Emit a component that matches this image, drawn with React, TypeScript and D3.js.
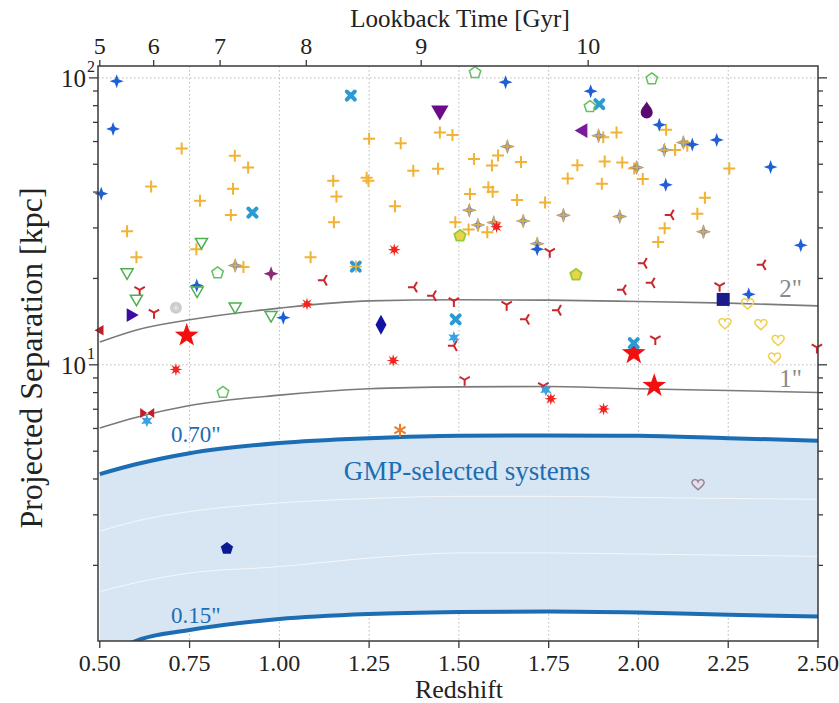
import React from 'react';
import * as d3 from 'd3';

// redshift ticks (bottom) and lookback time ticks (top)
const zTicks = [0.5, 0.75, 1.0, 1.25, 1.5, 1.75, 2.0, 2.25, 2.5];
const lookbackTicks = [5, 6, 7, 8, 9, 10];
const lookbackZ = [0.5, 0.65, 0.835, 1.075, 1.395, 1.86];
const yMajor = [10, 100];
const yMinor = [2, 3, 4, 5, 6, 7, 8, 9, 20, 30, 40, 50, 60, 70, 80, 90];

// angular-size curves, kpc at each redshift
const curveZ = [0.5, 0.6, 0.75, 1.0, 1.25, 1.5, 1.75, 2.0, 2.25, 2.5];
const sep2 = [12.0, 13.2, 14.35, 15.76, 16.71, 16.85, 16.8, 16.62, 16.4, 16.05];
const sep1 = [6.02, 6.55, 7.21, 7.84, 8.25, 8.38, 8.4, 8.25, 8.14, 8.01];
const sep070 = [4.16, 4.5, 4.92, 5.34, 5.55, 5.66, 5.67, 5.66, 5.55, 5.44];
const sep015 = [0.92, 1.09, 1.19, 1.3, 1.353, 1.375, 1.382, 1.37, 1.346, 1.327];
const sepFaintA = [2.63, 2.85, 3.08, 3.3, 3.42, 3.48, 3.48, 3.45, 3.42, 3.4];
const sepFaintB = [1.62, 1.74, 1.88, 1.98, 2.12, 2.21, 2.21, 2.19, 2.17, 2.15];

// [redshift, kpc]
const goldPlus = [
  [0.728, 56.7], [0.876, 53.5], [0.913, 48.7], [0.643, 41.8], [0.871, 41.1], [0.779, 37.3],
  [0.865, 33.3], [0.576, 29.2], [0.769, 25.3], [0.602, 23.7], [1.087, 23.7], [1.15, 43.8],
  [1.159, 38.6], [1.152, 31.4], [1.25, 61.3], [1.338, 59.2], [1.447, 64.5], [1.482, 63.2],
  [1.373, 47.5], [1.442, 48.2], [1.243, 44.9], [1.248, 43.8], [1.322, 35.7], [1.542, 52.1],
  [1.609, 53.6], [1.592, 49.5], [1.673, 50.9], [1.83, 49.6], [1.803, 44.6], [1.582, 41.6],
  [1.594, 40.1], [1.531, 39.4], [1.662, 37.5], [1.74, 36.8], [1.49, 31.4], [1.527, 29.6],
  [1.579, 29.0], [2.077, 65.9], [1.902, 62.1], [1.939, 64.5], [2.136, 58.0], [2.102, 56.1],
  [1.906, 51.1], [1.955, 50.7], [1.988, 48.3], [2.012, 44.4], [1.898, 42.8], [2.253, 48.3],
  [2.185, 38.2], [2.164, 33.6], [2.073, 29.9], [2.055, 26.8], [0.9, 21.9],
];
const blueStar = [
  [0.547, 97.4], [0.537, 66.4], [0.504, 39.5], [1.63, 96.6], [1.867, 89.9], [2.058, 68.6],
  [2.15, 58.6], [2.218, 60.8], [2.076, 42.4], [2.368, 48.9], [2.452, 26.1], [1.718, 25.3],
  [0.77, 18.9], [1.011, 14.6], [2.307, 17.6],
];
const blueGold = [
  [1.635, 57.6], [1.529, 34.6], [1.553, 30.7], [1.679, 31.7], [1.597, 31.3], [1.718, 26.4],
  [1.889, 62.8], [2.125, 59.5], [2.072, 56.1], [1.995, 48.7], [1.948, 32.9], [2.181, 29.1],
  [0.877, 22.2], [1.791, 33.2],
];
const redAsterisk = [
  [1.32, 25.2], [1.605, 30.3], [1.077, 16.3], [0.712, 9.63], [1.317, 10.35], [1.756, 7.61], [1.903, 7.01],
];
const redStar = [[0.742, 12.65], [1.987, 10.98], [2.044, 8.45]];
const redTriY = [
  [1.753, 24.8], [2.226, 18.85], [2.497, 11.5], [2.047, 12.3], [1.486, 16.7], [1.633, 16.2],
  [1.516, 8.87], [1.735, 8.45], [0.611, 18.25], [0.651, 15.2],
];
const redTriSide = [
  [2.015, 22.6], [2.346, 22.3], [2.037, 19.3], [1.957, 18.25], [1.375, 18.65], [1.428, 17.4],
  [1.687, 14.4], [1.776, 15.5], [1.486, 11.65], [1.124, 19.7], [2.09, 33.3],
];
const cyanX = [[1.199, 86.8], [0.925, 33.9], [1.891, 81.0], [1.491, 14.4], [1.987, 11.9]];
const cyanGold = [[1.213, 22.0]];
const cyanStar = [[1.486, 12.45], [1.742, 8.18], [0.631, 6.38]];
const greenTri = [[0.783, 26.8], [0.576, 21.0], [0.602, 17.0], [0.771, 18.15], [0.877, 15.96], [0.977, 14.9]];
const greenPent = [[1.545, 104.3], [2.037, 99.2], [1.865, 79.4], [0.828, 20.9], [0.843, 8.01]];
const limePent = [[1.503, 28.15], [1.826, 20.6]];
const yellowHeart = [[2.304, 16.3], [2.241, 13.9], [2.341, 13.8], [2.389, 12.15], [2.379, 10.55]];
const mauveHeart = [[2.166, 3.82]];
const purpleTriDown = [[1.447, 76.9]];
const purpleTriLeft = [[1.846, 65.5]];
const purpleDrop = [[2.023, 76.9]];
const indigoTriRight = [[0.586, 14.9]];
const plumStar = [[0.977, 20.75]];
const navySquare = [[2.236, 16.9]];
const navyDiamond = [[1.283, 13.8]];
const navyPent = [[0.854, 2.29]];
const grayCircle = [[0.712, 15.8]];
const redBowtie = [[0.632, 6.79]];
const redTriLeft = [[0.502, 13.2]];
const orangeAsterisk = [[1.336, 5.92]];

const FONT = '"Liberation Serif", "Times New Roman", serif';

const starPath = (n: number, R: number, r: number, rot = -Math.PI / 2) => {
  const pts: string[] = [];
  for (let i = 0; i < 2 * n; i++) {
    const a = rot + (i * Math.PI) / n;
    const rad = i % 2 ? r : R;
    pts.push(`${(rad * Math.cos(a)).toFixed(2)},${(rad * Math.sin(a)).toFixed(2)}`);
  }
  return 'M' + pts.join('L') + 'Z';
};
const polyPath = (n: number, R: number, rot = -Math.PI / 2) => {
  const pts: string[] = [];
  for (let i = 0; i < n; i++) {
    const a = rot + (i * 2 * Math.PI) / n;
    pts.push(`${(R * Math.cos(a)).toFixed(2)},${(R * Math.sin(a)).toFixed(2)}`);
  }
  return 'M' + pts.join('L') + 'Z';
};
const triSpokes = (L: number, rot: number) =>
  [Math.PI / 2, (7 * Math.PI) / 6, (11 * Math.PI) / 6]
    .map(a => `M0,0L${(L * Math.cos(a + rot)).toFixed(2)},${(L * Math.sin(a + rot)).toFixed(2)}`)
    .join('');
const heartPath =
  'M0,5C-2,3 -7,0 -6,-3C-5,-6 -1,-6 0,-3C1,-6 5,-6 6,-3C7,0 2,3 0,5Z';
const dropPath = 'M0,-9C2,-5 6,-2 6,2A6,6 0 1 1 -6,2C-6,-2 -2,-5 0,-9Z';

const App = () => {
  const W = 839;
  const H = 703;
  const left = 98, right = 818, top = 66, bottom = 641;

  const x = d3.scaleLinear().domain([0.495, 2.5]).range([left, right]);
  const y = d3.scaleLog().domain([1.09, 110]).range([bottom, top]);

  const line = d3
    .line<number>()
    .x((_, i) => x(curveZ[i]))
    .y(d => y(d))
    .curve(d3.curveMonotoneX);
  const band = d3
    .area<number>()
    .x((_, i) => x(curveZ[i]))
    .y0((_, i) => y(sep015[i]))
    .y1(d => y(d))
    .curve(d3.curveMonotoneX);

  const marks = (data: number[][], render: () => React.ReactNode) =>
    data.map((d, i) => (
      <g key={i} transform={`translate(${x(d[0])},${y(d[1])})`}>
        {render()}
      </g>
    ));

  const plus = 'M-6,0H6M0,-6V6';

  return (
    <svg
      width={W}
      height={H}
      viewBox={`0 0 ${W} ${H}`}
      style={{ position: 'absolute', left: 0, top: 0, background: '#fff' }}
      fontFamily={FONT}
    >
      <defs>
        <clipPath id="plotClip">
          <rect x={left} y={top} width={right - left} height={bottom - top} />
        </clipPath>
      </defs>

      {/* grid */}
      <g stroke="#b8b8b8" strokeWidth={1} strokeDasharray="1.5,2.5">
        {zTicks.slice(1, -1).map(t => (
          <line key={t} x1={x(t)} x2={x(t)} y1={top} y2={bottom} />
        ))}
        {yMajor.map(t => (
          <line key={t} x1={left} x2={right} y1={y(t)} y2={y(t)} />
        ))}
      </g>

      <g clipPath="url(#plotClip)">
        <path d={band(sep070) || ''} fill="#d4e2f1" fillOpacity={0.9} />
        <path d={line(sepFaintA) || ''} fill="none" stroke="#fff" strokeOpacity={0.7} strokeWidth={1} />
        <path d={line(sepFaintB) || ''} fill="none" stroke="#fff" strokeOpacity={0.7} strokeWidth={1} />
        <path d={line(sep2) || ''} fill="none" stroke="#7a7a7a" strokeWidth={1.6} />
        <path d={line(sep1) || ''} fill="none" stroke="#7a7a7a" strokeWidth={1.6} />
        <path d={line(sep070) || ''} fill="none" stroke="#1b6db4" strokeWidth={4} />
        <path d={line(sep015) || ''} fill="none" stroke="#1b6db4" strokeWidth={4} />
      </g>

      {/* curve labels */}
      <text x={802} y={297} fontSize={25} fill="#8a8a8a" textAnchor="end">2"</text>
      <text x={802} y={387} fontSize={25} fill="#8a8a8a" textAnchor="end">1"</text>
      <text x={171} y={442} fontSize={23} fill="#1b6db4">0.70"</text>
      <text x={171} y={623} fontSize={23} fill="#1b6db4">0.15"</text>
      <text x={467} y={480} fontSize={27} fill="#1b6db4" textAnchor="middle">
        GMP-selected systems
      </text>

      {/* markers */}
      <g>
        {marks(goldPlus, () => <path d={plus} stroke="#f2b233" strokeWidth={2} fill="none" />)}
        {marks(blueGold, () => (
          <>
            <path d={starPath(4, 7.5, 2.8)} fill="#4d6fb8" fillOpacity={0.85} />
            <path d={plus} stroke="#e9b23f" strokeWidth={2} strokeOpacity={0.85} fill="none" />
          </>
        ))}
        {marks(blueStar, () => <path d={starPath(4, 7, 2.6)} fill="#1f5fd6" />)}
        {marks(redTriY, () => (
          <path d={triSpokes(6, 0)} stroke="#c7282d" strokeWidth={2} fill="none" />
        ))}
        {marks(redTriSide, () => (
          <path d={triSpokes(6, Math.PI / 2)} stroke="#c7282d" strokeWidth={2} fill="none" />
        ))}
        {marks(redAsterisk, () => <path d={starPath(8, 6.5, 2.7)} fill="#f2231c" />)}
        {marks(redStar, () => <path d={starPath(5, 12.5, 5)} fill="#f20f0f" />)}
        {marks(cyanX, () => (
          <path d="M-4,-4L4,4M4,-4L-4,4" stroke="#2a9ad2" strokeWidth={4} strokeLinecap="round" fill="none" />
        ))}
        {marks(cyanGold, () => (
          <>
            <path d="M-4,-4L4,4M4,-4L-4,4" stroke="#2a9ad2" strokeWidth={4} strokeLinecap="round" fill="none" />
            <path d={plus} stroke="#e9b23f" strokeWidth={1.6} fill="none" />
          </>
        ))}
        {marks(cyanStar, () => <path d={starPath(6, 6.5, 3)} fill="#3aa2e2" />)}
        {marks(greenTri, () => (
          <path d={polyPath(3, 7, Math.PI / 2)} stroke="#4caf50" strokeWidth={1.5} fill="none" />
        ))}
        {marks(greenPent, () => (
          <path d={polyPath(5, 6)} stroke="#62c162" strokeWidth={1.5} fill="none" />
        ))}
        {marks(limePent, () => (
          <path d={polyPath(5, 6)} stroke="#9cc93b" strokeWidth={1.8} fill="#e8d44a" />
        ))}
        {marks(yellowHeart, () => (
          <path d={heartPath} stroke="#f0cf4e" strokeWidth={1.5} fill="none" />
        ))}
        {marks(mauveHeart, () => (
          <path d={heartPath} stroke="#a8808f" strokeWidth={1.5} fill="none" />
        ))}
        {marks(purpleTriDown, () => <path d={polyPath(3, 10, Math.PI / 2)} fill="#6b0b8c" />)}
        {marks(purpleTriLeft, () => <path d={polyPath(3, 8.5, Math.PI)} fill="#7a1a9c" />)}
        {marks(purpleDrop, () => <path d={dropPath} fill="#5c0a70" />)}
        {marks(indigoTriRight, () => <path d={polyPath(3, 8, 0)} fill="#3f0ca3" />)}
        {marks(plumStar, () => <path d={starPath(4, 7.5, 2.8)} fill="#8c2b74" />)}
        {marks(navySquare, () => <rect x={-6.5} y={-6.5} width={13} height={13} fill="#1d1a8c" />)}
        {marks(navyDiamond, () => <path d="M0,-10L5.5,0L0,10L-5.5,0Z" fill="#1212a3" />)}
        {marks(navyPent, () => <path d={polyPath(5, 6.5)} fill="#0b1a93" />)}
        {marks(grayCircle, () => (
          <>
            <circle r={6} fill="#cdcdcd" />
            <path d="M-3,0H3M0,-3V3" stroke="#e8e8e8" strokeWidth={1.2} />
          </>
        ))}
        {marks(redBowtie, () => (
          <path d="M-7,-5L0,0L-7,5ZM7,-5L0,0L7,5Z" fill="#c41e24" />
        ))}
        {marks(redTriLeft, () => <path d={polyPath(3, 6, Math.PI)} fill="#c41e24" />)}
        {marks(orangeAsterisk, () => (
          <path d="M0,-6.5V6.5M-5.6,-3.2L5.6,3.2M-5.6,3.2L5.6,-3.2" stroke="#f07a26" strokeWidth={2} fill="none" />
        ))}
      </g>

      {/* frame */}
      <rect x={left} y={top} width={right - left} height={bottom - top} fill="none" stroke="#3a3a3a" strokeWidth={1.5} />

      {/* ticks */}
      <g stroke="#3a3a3a" strokeWidth={1.3}>
        {zTicks.map(t => (
          <line key={t} x1={x(t)} x2={x(t)} y1={bottom} y2={bottom + 7} />
        ))}
        {lookbackZ.map(t => (
          <line key={t} x1={x(t)} x2={x(t)} y1={top} y2={top - 6} />
        ))}
        {yMajor.map(t => (
          <g key={t}>
            <line x1={left} x2={left - 9} y1={y(t)} y2={y(t)} />
            <line x1={right} x2={right + 9} y1={y(t)} y2={y(t)} />
          </g>
        ))}
        {yMinor.map(t => (
          <g key={t}>
            <line x1={left} x2={left - 5} y1={y(t)} y2={y(t)} />
            <line x1={right} x2={right + 5} y1={y(t)} y2={y(t)} />
          </g>
        ))}
      </g>
      <g fontSize={24} fill="#222" textAnchor="middle">
        {zTicks.map(t => (
          <text key={t} x={x(t)} y={671}>
            {d3.format('.2f')(t)}
          </text>
        ))}
        {lookbackTicks.map((t, i) => (
          <text key={t} x={x(lookbackZ[i])} y={54}>
            {t}
          </text>
        ))}
      </g>
      <g fill="#222">
        {yMajor.map(t => (
          <g key={t}>
            <text x={86} y={y(t) + 9} fontSize={25} textAnchor="end">10</text>
            <text x={87} y={y(t) - 6} fontSize={16}>{Math.round(Math.log10(t))}</text>
          </g>
        ))}
      </g>

      <text x={459} y={698} fontSize={26} fill="#222" textAnchor="middle">Redshift</text>
      <text x={460} y={27} fontSize={25} fill="#222" textAnchor="middle">Lookback Time [Gyr]</text>
      <text
        transform="translate(42,358) rotate(-90)"
        fontSize={32}
        fill="#222"
        textAnchor="middle"
      >
        Projected Separation [kpc]
      </text>
    </svg>
  );
};

export default App;
